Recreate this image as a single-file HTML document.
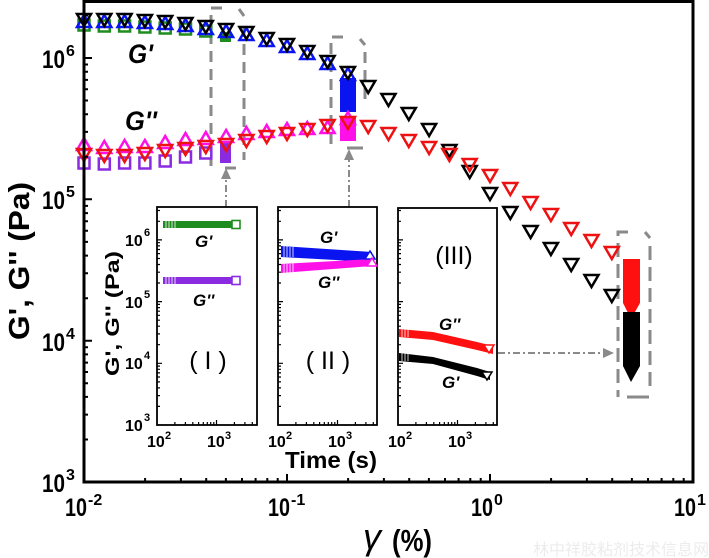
<!DOCTYPE html>
<html><head><meta charset="utf-8"><style>
html,body{margin:0;padding:0;background:#fff;}
svg{display:block;}
text{font-family:"Liberation Sans",Arial,sans-serif;}
</style></head><body>
<svg width="709" height="558" viewBox="0 0 709 558" xmlns="http://www.w3.org/2000/svg">
<defs>
<path id="dt" d="M-7,-5 L7,-5 L0,7 Z"/>
<path id="ut" d="M-7,5 L7,5 L0,-7 Z"/>
<rect id="sq" x="-5.5" y="-5.5" width="11" height="11"/>
<path id="itk" d="M0,406.4h3M0,395.6h3M0,387.9h3M0,381.9h3M0,377h3M0,372.9h3M0,369.3h3M0,366.1h3M0,363.3h5M0,344.7h3M0,333.9h3M0,326.2h3M0,320.2h3M0,315.3h3M0,311.2h3M0,307.6h3M0,304.4h3M0,301.6h5M0,283h3M0,272.2h3M0,264.5h3M0,258.5h3M0,253.6h3M0,249.5h3M0,245.9h3M0,242.7h3M0,239.9h5M0,221.3h3M0,210.5h3M17.9,425v-3M28.4,425v-3M35.8,425v-3M41.6,425v-3M46.3,425v-3M50.3,425v-3M53.7,425v-3M56.8,425v-3M59.5,425v-5M77.4,425v-3M87.9,425v-3M95.3,425v-3" stroke="#000" stroke-width="1.2" fill="none"/>
</defs>

<!-- dashed brackets -->
<g stroke="#8a8a8a" stroke-width="3" fill="none">
<path d="M222,8 H211 V166" stroke-dasharray="11 7"/>
<path d="M239,9 L244,16"/>
<path d="M244,26 V160" stroke-dasharray="11 7"/>
<path d="M225,168 H236"/>
<path d="M343,37 H331 V147" stroke-dasharray="11 7"/>
<path d="M360,39 L365,45"/>
<path d="M365,52 V104" stroke-dasharray="11 7"/>
<path d="M347,148 H363"/>
<path d="M628,232 H618 V397" stroke-dasharray="14 7"/>
<path d="M645,232 L650,238"/>
<path d="M650,246 V388" stroke-dasharray="14 7"/>
<path d="M627,397 H649"/>
</g>
<!-- dash-dot arrows -->
<g stroke="#8a8a8a" stroke-width="2" fill="none" stroke-dasharray="7 3 2 3">
<path d="M226,207 V178"/>
<path d="M349,207 V160"/>
<path d="M498,353 H604"/>
</g>
<g fill="#8a8a8a">
<polygon points="226,168 221,179 231,179"/>
<polygon points="349,149 344,160 354,160"/>
<polygon points="614,353 603,348 603,358"/>
</g>

<!-- bars -->
<rect x="220" y="32" width="11" height="10" fill="#1f8c1f"/>
<rect x="220" y="142" width="11" height="21" fill="#8a2be2"/>
<rect x="340" y="78" width="16" height="34" fill="#0a14f0"/>
<rect x="340" y="116" width="16" height="25" fill="#ff10e8"/>
<polygon points="623,259 640,259 640,303 631,319 623,303" fill="#ff1010"/>
<polygon points="623,312 640,312 640,366 631,382 623,366" fill="#000"/>

<!-- green squares -->
<g fill="none" stroke="#1f8c1f" stroke-width="2.5">
<use href="#sq" x="84" y="25"/><use href="#sq" x="104.3" y="26"/><use href="#sq" x="124.6" y="26"/><use href="#sq" x="144.9" y="27"/><use href="#sq" x="165.2" y="28"/><use href="#sq" x="185.5" y="29"/><use href="#sq" x="205.8" y="31"/>
</g>
<!-- purple squares -->
<g fill="none" stroke="#8a2be2" stroke-width="2.5">
<use href="#sq" x="84" y="163"/><use href="#sq" x="104.3" y="164"/><use href="#sq" x="124.6" y="163"/><use href="#sq" x="144.9" y="163"/><use href="#sq" x="165.2" y="161"/><use href="#sq" x="185.5" y="157"/><use href="#sq" x="205.8" y="153"/>
</g>
<!-- blue up triangles -->
<g fill="none" stroke="#0a14f0" stroke-width="2.5">
<use href="#ut" x="84" y="22"/><use href="#ut" x="104.3" y="22"/><use href="#ut" x="124.6" y="22"/><use href="#ut" x="144.9" y="23"/><use href="#ut" x="165.2" y="24"/><use href="#ut" x="185.5" y="26"/><use href="#ut" x="205.8" y="29"/><use href="#ut" x="226.1" y="32"/><use href="#ut" x="246.4" y="35"/><use href="#ut" x="266.7" y="41"/><use href="#ut" x="287" y="47"/><use href="#ut" x="307.3" y="54"/><use href="#ut" x="327.6" y="64"/><use href="#ut" x="347.9" y="75"/>
</g>
<!-- magenta up triangles -->
<g fill="none" stroke="#ff10e8" stroke-width="2.5">
<use href="#ut" x="84" y="145"/><use href="#ut" x="104.3" y="148"/><use href="#ut" x="124.6" y="147"/><use href="#ut" x="144.9" y="147"/><use href="#ut" x="165.2" y="143"/><use href="#ut" x="185.5" y="140"/><use href="#ut" x="205.8" y="139"/><use href="#ut" x="226.1" y="137"/><use href="#ut" x="246.4" y="134"/><use href="#ut" x="266.7" y="132"/><use href="#ut" x="287" y="130"/><use href="#ut" x="307.3" y="129"/><use href="#ut" x="327.6" y="128"/><use href="#ut" x="347.9" y="119"/>
</g>
<!-- black down triangles -->
<g fill="none" stroke="#000" stroke-width="2.5">
<use href="#dt" x="84" y="19"/><use href="#dt" x="104.3" y="19"/><use href="#dt" x="124.6" y="19"/><use href="#dt" x="144.9" y="20"/><use href="#dt" x="165.2" y="21"/><use href="#dt" x="185.5" y="23"/><use href="#dt" x="205.8" y="26"/><use href="#dt" x="226.1" y="29"/><use href="#dt" x="246.4" y="32"/><use href="#dt" x="266.7" y="38"/><use href="#dt" x="287" y="44"/><use href="#dt" x="307.3" y="51"/><use href="#dt" x="327.6" y="61"/><use href="#dt" x="347.9" y="72"/><use href="#dt" x="368.2" y="86"/><use href="#dt" x="388.5" y="99"/><use href="#dt" x="408.8" y="113"/><use href="#dt" x="429.1" y="129"/><use href="#dt" x="449.4" y="150"/><use href="#dt" x="469.7" y="171"/><use href="#dt" x="490" y="193"/><use href="#dt" x="510.3" y="212"/><use href="#dt" x="530.6" y="231"/><use href="#dt" x="550.9" y="248"/><use href="#dt" x="571.2" y="264"/><use href="#dt" x="591.5" y="280"/><use href="#dt" x="611.8" y="295"/>
</g>
<!-- red down triangles -->
<g fill="none" stroke="#ee1111" stroke-width="2.5">
<use href="#dt" x="84" y="154"/><use href="#dt" x="104.3" y="155"/><use href="#dt" x="124.6" y="155"/><use href="#dt" x="144.9" y="153"/><use href="#dt" x="165.2" y="150"/><use href="#dt" x="185.5" y="148"/><use href="#dt" x="205.8" y="146"/><use href="#dt" x="226.1" y="144"/><use href="#dt" x="246.4" y="140"/><use href="#dt" x="266.7" y="136"/><use href="#dt" x="287" y="133"/><use href="#dt" x="307.3" y="129"/><use href="#dt" x="327.6" y="125"/><use href="#dt" x="347.9" y="122"/><use href="#dt" x="368.2" y="126"/><use href="#dt" x="388.5" y="133"/><use href="#dt" x="408.8" y="140"/><use href="#dt" x="429.1" y="147"/><use href="#dt" x="449.4" y="154"/><use href="#dt" x="469.7" y="164"/><use href="#dt" x="490" y="175"/><use href="#dt" x="510.3" y="188"/><use href="#dt" x="530.6" y="202"/><use href="#dt" x="550.9" y="214"/><use href="#dt" x="571.2" y="228"/><use href="#dt" x="591.5" y="240"/><use href="#dt" x="611.8" y="252"/>
</g>

<!-- main frame -->
<rect x="84" y="1.5" width="609" height="480.5" fill="none" stroke="#000" stroke-width="3"/>
<path stroke="#000" stroke-width="2" fill="none" d="M84,340.7h8M84,199.3h8M84,58h8M84,439.5h4M84,414.6h4M84,396.9h4M84,383.2h4M84,372h4M84,362.6h4M84,354.4h4M84,347.2h4M84,298.2h4M84,273.3h4M84,255.6h4M84,241.9h4M84,230.7h4M84,221.3h4M84,213.1h4M84,205.9h4M84,156.8h4M84,131.9h4M84,114.2h4M84,100.5h4M84,89.3h4M84,79.9h4M84,71.7h4M84,64.5h4M84,15.5h4
M287,482v-8M490,482v-8M145.1,482v-4M180.9,482v-4M206.2,482v-4M225.9,482v-4M242,482v-4M255.6,482v-4M267.3,482v-4M277.7,482v-4M348.1,482v-4M383.9,482v-4M409.2,482v-4M428.9,482v-4M445,482v-4M458.6,482v-4M470.3,482v-4M480.7,482v-4M551.1,482v-4M586.9,482v-4M612.2,482v-4M631.9,482v-4M648,482v-4M661.6,482v-4M673.3,482v-4M683.7,482v-4"/>

<!-- main tick labels -->
<g font-weight="bold" fill="#000">
<text x="42" y="492" font-size="25" textLength="23" lengthAdjust="spacingAndGlyphs">10</text><text x="66" y="480" font-size="16">3</text>
<text x="42" y="351" font-size="25" textLength="23" lengthAdjust="spacingAndGlyphs">10</text><text x="66" y="339" font-size="16">4</text>
<text x="42" y="209" font-size="25" textLength="23" lengthAdjust="spacingAndGlyphs">10</text><text x="66" y="197" font-size="16">5</text>
<text x="42" y="68" font-size="25" textLength="23" lengthAdjust="spacingAndGlyphs">10</text><text x="66" y="56" font-size="16">6</text>
<text x="65" y="516" font-size="25" textLength="22" lengthAdjust="spacingAndGlyphs">10</text><text x="88" y="505" font-size="16">-2</text>
<text x="268" y="516" font-size="25" textLength="22" lengthAdjust="spacingAndGlyphs">10</text><text x="291" y="505" font-size="16">-1</text>
<text x="471" y="516" font-size="25" textLength="22" lengthAdjust="spacingAndGlyphs">10</text><text x="494" y="505" font-size="16">0</text>
<text x="674" y="516" font-size="25" textLength="22" lengthAdjust="spacingAndGlyphs">10</text><text x="697" y="505" font-size="16">1</text>
</g>
<!-- axis titles -->
<text transform="translate(29,340) rotate(-90)" font-size="29" font-weight="bold" textLength="158" lengthAdjust="spacingAndGlyphs">G', G'' (Pa)</text>
<text x="363" y="549" font-family="Liberation Serif, serif" font-style="italic" font-size="36">γ</text>
<text x="392" y="551" font-size="31" font-weight="bold" textLength="40" lengthAdjust="spacingAndGlyphs">(%)</text>
<!-- G labels -->
<text x="128" y="63" font-size="27" font-weight="bold" font-style="italic" textLength="25" lengthAdjust="spacingAndGlyphs">G'</text>
<text x="125" y="130" font-size="27" font-weight="bold" font-style="italic" textLength="32" lengthAdjust="spacingAndGlyphs">G''</text>

<!-- insets -->
<rect x="157" y="207" width="100" height="218" fill="#fff" stroke="#000" stroke-width="1.8"/>
<rect x="278" y="207" width="99" height="218" fill="#fff" stroke="#000" stroke-width="1.8"/>
<rect x="398" y="208" width="99" height="217" fill="#fff" stroke="#000" stroke-width="1.8"/>
<use href="#itk" x="157"/>
<use href="#itk" x="278"/>
<use href="#itk" x="398"/>

<!-- inset I data -->
<rect x="163" y="221" width="76" height="7" fill="#1f8c1f"/>
<rect x="163" y="277" width="76" height="7" fill="#8a2be2"/>
<g stroke="#fff" stroke-width="0.8">
<path d="M166,221v7M169,221v7M172,221v7M175,221v7M166,277v7M169,277v7M172,277v7M175,277v7"/>
</g>
<rect x="232" y="220.5" width="8" height="8" fill="#fff" stroke="#1f8c1f" stroke-width="1.6"/>
<rect x="232" y="276.5" width="8" height="8" fill="#fff" stroke="#8a2be2" stroke-width="1.6"/>
<!-- inset II data -->
<polygon points="281,246 372,252 372,262 281,257" fill="#0a14f0"/>
<polygon points="281,264 372,259 372,266 281,273" fill="#ff10e8"/>
<g stroke="#fff" stroke-width="0.8"><path d="M284,246v11M287,246v11M290,247v10M293,247v10M284,264v9M287,264v9M290,264v9M293,263v9"/></g>
<polygon points="370,251 375,259 365,259" fill="#fff" stroke="#0a14f0" stroke-width="1.5"/>
<polygon points="372,258 377,266 367,266" fill="#fff" stroke="#ff10e8" stroke-width="1.5"/>
<!-- inset III data -->
<polygon points="399,329 433,332 477,342 493,346 493,354 477,350 433,340 399,337" fill="#ff1010"/>
<polygon points="399,353 433,357 477,368 490,372 490,380 477,376 433,364 399,361" fill="#000"/>
<g stroke="#fff" stroke-width="0.8"><path d="M402,329v8M405,329v8M408,329v8M402,353v8M405,353v8M408,353v8"/></g>
<polygon points="484,345 494,345 489,353" fill="#fff" stroke="#ff1010" stroke-width="1.5"/>
<polygon points="482,372 492,372 487,380" fill="#fff" stroke="#000" stroke-width="1.5"/>

<!-- inset labels -->
<g font-weight="bold" font-style="italic" font-size="17">
<text x="195" y="247">G'</text>
<text x="193" y="306">G''</text>
<text x="320" y="243">G'</text>
<text x="318" y="288">G''</text>
<text x="439" y="330">G''</text>
<text x="442" y="388">G'</text>
</g>
<g font-family="Liberation Serif, serif" font-size="25" text-anchor="middle">
<text x="208" y="369">( I )</text>
<text x="328" y="369">( II )</text>
<text x="454" y="264">(III)</text>
</g>
<!-- inset tick labels -->
<g font-weight="bold" font-size="16">
<text x="125" y="246">10</text><text x="144" y="236" font-size="11">6</text>
<text x="125" y="308">10</text><text x="144" y="298" font-size="11">5</text>
<text x="125" y="369">10</text><text x="144" y="359" font-size="11">4</text>
<text x="125" y="431">10</text><text x="144" y="421" font-size="11">3</text>
<text x="147" y="447">10</text><text x="165" y="439" font-size="11">2</text>
<text x="207" y="447">10</text><text x="225" y="439" font-size="11">3</text>
<text x="268" y="447">10</text><text x="286" y="439" font-size="11">2</text>
<text x="328" y="447">10</text><text x="346" y="439" font-size="11">3</text>
<text x="388" y="447">10</text><text x="406" y="439" font-size="11">2</text>
<text x="448" y="447">10</text><text x="466" y="439" font-size="11">3</text>
</g>
<text transform="translate(119,376) rotate(-90)" font-size="19" font-weight="bold" textLength="125" lengthAdjust="spacingAndGlyphs">G', G'' (Pa)</text>
<text x="285" y="468" font-size="23" font-weight="bold" textLength="92" lengthAdjust="spacingAndGlyphs">Time (s)</text>

<!-- watermark -->
<text x="533" y="555" font-family="Liberation Sans, 'Noto Sans CJK SC', sans-serif" font-size="16" fill="#ececec" textLength="176" lengthAdjust="spacingAndGlyphs">林中祥胶粘剂技术信息网</text>
</svg>
</body></html>
